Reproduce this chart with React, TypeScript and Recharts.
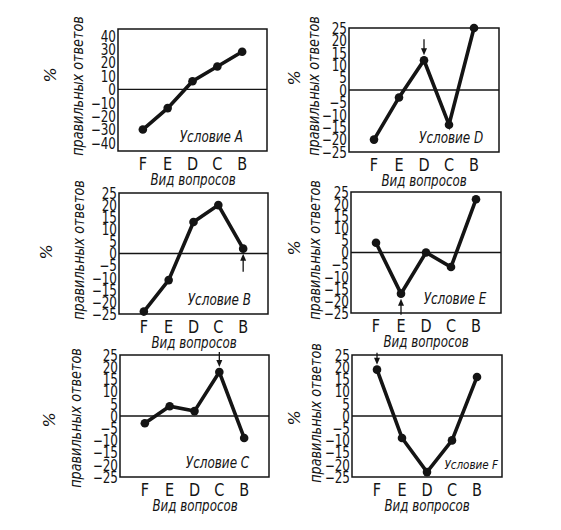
import React from "react";
import { LineChart, Line, XAxis, YAxis, ReferenceLine, ReferenceArea } from "recharts";

// question types along the x axis
const questionTypes = ["F", "E", "D", "C", "B"];

const ticks40 = [40, 30, 20, 10, 0, -10, -20, -30, -40];
const ticks25 = [25, 20, 15, 10, 5, 0, -5, -10, -15, -20, -25];

// % correct answers per condition
const valuesA = [-30, -14, 6, 17, 28];
const valuesD = [-20, -3, 12, -14, 25];
const valuesB = [-24, -11, 13, 20, 2];
const valuesE = [4, -17, 0, -6, 22];
const valuesC = [-3, 4, 2, 18, -9];
const valuesF = [19, -9, -23, -10, 16];

// where the little arrow points (question type), up = arrow from below
const arrowAt: Record<string, { q: string; dir: "down" | "up"; len: number } | null> = {
  A: null,
  D: { q: "D", dir: "down", len: 16 },
  B: { q: "B", dir: "up", len: 18 },
  E: { q: "E", dir: "up", len: 16 },
  C: { q: "C", dir: "down", len: 15 },
  F: { q: "F", dir: "down", len: 12 },
};

const INK = "#141414";
const FONT = "'DejaVu Sans', 'Liberation Sans', sans-serif";

type PanelCfg = {
  key: string;
  values: number[];
  domain: [number, number];
  ticks: number[];
  box: [number, number, number, number]; // left, top, right, bottom in page px
  pct: [number, number];
  ylab: [number, number];
  titleRight: number;
  titleSize: number;
};

const panels: PanelCfg[] = [
  { key: "A", values: valuesA, domain: [-46, 45], ticks: ticks40, box: [118, 29, 267, 151], pct: [51, 75], ylab: [78, 86], titleRight: 24, titleSize: 15 },
  { key: "D", values: valuesD, domain: [-25, 25], ticks: ticks25, box: [349, 28, 499, 152], pct: [295, 78], ylab: [314, 86], titleRight: 16, titleSize: 15 },
  { key: "B", values: valuesB, domain: [-25, 25], ticks: ticks25, box: [119, 193, 268, 314], pct: [47, 252], ylab: [79, 250], titleRight: 17, titleSize: 15 },
  { key: "E", values: valuesE, domain: [-25, 25], ticks: ticks25, box: [351, 192, 501, 313], pct: [295, 248], ylab: [315, 250], titleRight: 15, titleSize: 15 },
  { key: "C", values: valuesC, domain: [-25, 25], ticks: ticks25, box: [120, 355, 269, 477], pct: [50, 420], ylab: [76, 418], titleRight: 20, titleSize: 15 },
  { key: "F", values: valuesF, domain: [-25, 25], ticks: ticks25, box: [352, 355, 502, 477], pct: [295, 418], ylab: [316, 413], titleRight: 4, titleSize: 13 },
];

const fmt = (v: number) => (v < 0 ? "\u2212" + Math.abs(v) : String(v));

const YTick = (props: any) => {
  const { x, y, payload } = props;
  return (
    <text
      transform={`translate(${x - 2},${y}) scale(0.8,1.05)`}
      textAnchor="end"
      dy="0.37em"
      fontFamily={FONT}
      fontSize={15}
      fill={INK}
    >
      {fmt(payload.value)}
    </text>
  );
};

const XTick = (props: any) => {
  const { x, y, payload } = props;
  return (
    <text
      transform={`translate(${x},${y + 19}) scale(0.85,1)`}
      textAnchor="middle"
      fontFamily={FONT}
      fontSize={17}
      fill={INK}
    >
      {questionTypes[payload.value - 1]}
    </text>
  );
};

const rotated = (x: number, y: number, size: number, sx: number): React.CSSProperties => ({
  position: "absolute",
  left: x,
  top: y,
  transform: `translate(-50%,-50%) rotate(-90deg) scaleX(${sx})`,
  whiteSpace: "nowrap",
  lineHeight: 1,
  fontFamily: FONT,
  fontStyle: "italic",
  fontSize: size,
  color: INK,
});

const Panel = ({ p }: { p: PanelCfg }) => {
  const [l, t, r, b] = p.box;
  const padL = 60, padT = 12, padR = 12, padB = 50;
  const w = r - l + padL + padR;
  const h = b - t + padT + padB;
  const data = questionTypes.map((q, i) => ({ x: i + 1, q, v: p.values[i] }));
  const arrow = arrowAt[p.key];
  const arrowIdx = arrow ? questionTypes.indexOf(arrow.q) : -1;

  const renderDot = (d: any) => {
    const { cx, cy, index } = d;
    let mark = null;
    if (index === arrowIdx && arrow) {
      const s = arrow.dir === "down" ? -1 : 1;
      const tip = cy + s * 5;
      const tail = cy + s * (5 + arrow.len);
      mark = (
        <g>
          <line x1={cx} y1={tail} x2={cx} y2={tip + s * 4} stroke={INK} strokeWidth={1.3} />
          <polygon points={`${cx - 3},${tip + s * 7} ${cx + 3},${tip + s * 7} ${cx},${tip}`} fill={INK} />
        </g>
      );
    }
    return (
      <g key={`dot-${index}`}>
        <circle cx={cx} cy={cy} r={4.3} fill={INK} />
        {mark}
      </g>
    );
  };

  return (
    <>
      <div style={{ position: "absolute", left: l - padL, top: t - padT, width: w, height: h }}>
        <LineChart width={w} height={h} data={data} margin={{ top: padT, right: padR, bottom: 0, left: 0 }}>
          <XAxis
            type="number"
            dataKey="x"
            domain={[0, 6]}
            ticks={[1, 2, 3, 4, 5]}
            interval={0}
            height={padB}
            tickSize={0}
            tickMargin={0}
            axisLine={false}
            tick={<XTick />}
          />
          <YAxis
            type="number"
            domain={p.domain}
            ticks={p.ticks}
            interval={0}
            width={padL}
            tickSize={0}
            tickMargin={0}
            axisLine={false}
            tick={<YTick />}
          />
          <ReferenceArea x1={0} x2={6} y1={p.domain[0]} y2={p.domain[1]} fill="none" fillOpacity={0} stroke={INK} strokeWidth={1.5} />
          <ReferenceLine y={0} stroke={INK} strokeWidth={1.3} />
          <Line
            dataKey="v"
            stroke={INK}
            strokeWidth={3.6}
            dot={renderDot}
            activeDot={false}
            isAnimationActive={false}
          />
        </LineChart>
      </div>
      <div style={rotated(p.pct[0], p.pct[1], 16, 1)}>%</div>
      <div style={rotated(p.ylab[0], p.ylab[1], 16, 0.8)}>правильных ответов</div>
      <div
        style={{
          position: "absolute",
          left: (l + r) / 2,
          top: b + 29,
          transform: "translate(-50%,-50%) scaleX(0.74)",
          whiteSpace: "nowrap",
          lineHeight: 1,
          fontFamily: FONT,
          fontStyle: "italic",
          fontSize: 16,
          color: INK,
        }}
      >
        Вид вопросов
      </div>
      <div
        style={{
          position: "absolute",
          right: 561 - r + p.titleRight,
          top: b - 9 - p.titleSize * 0.8,
          transform: "scaleX(0.8)",
          transformOrigin: "right center",
          whiteSpace: "nowrap",
          lineHeight: 1,
          fontFamily: FONT,
          fontStyle: "italic",
          fontSize: p.titleSize,
          color: INK,
        }}
      >
        Условие {p.key}
      </div>
    </>
  );
};

export default function App() {
  return (
    <div style={{ position: "absolute", left: 0, top: 0, width: 561, height: 530, background: "#fff", overflow: "hidden" }}>
      {panels.map((p) => (
        <Panel key={p.key} p={p} />
      ))}
    </div>
  );
}
